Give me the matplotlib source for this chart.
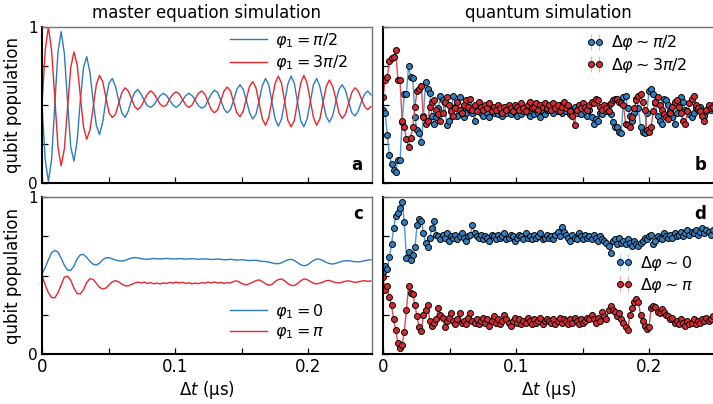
import numpy as np
import matplotlib
matplotlib.use('Agg')
import matplotlib.pyplot as plt

# master equation simulation, sampled every dt_sim (us)
dt_sim = 0.0024
a_blue = [0.50, 0.15, 0.01, 0.15, 0.50, 0.84, 0.97, 0.83, 0.52, 0.23,
          0.14, 0.27, 0.53, 0.74, 0.81, 0.71, 0.53, 0.37, 0.31, 0.39,
          0.53, 0.64, 0.67, 0.62, 0.53, 0.45, 0.42, 0.46, 0.53, 0.58,
          0.60, 0.57, 0.53, 0.495, 0.485, 0.50, 0.53, 0.56, 0.575, 0.56,
          0.53, 0.50, 0.485, 0.50, 0.53, 0.56, 0.575, 0.56, 0.53, 0.495,
          0.48, 0.49, 0.53, 0.57, 0.595, 0.58, 0.53, 0.475, 0.45, 0.47,
          0.53, 0.60, 0.63, 0.60, 0.53, 0.45, 0.41, 0.44, 0.53, 0.625,
          0.67, 0.63, 0.52, 0.41, 0.365, 0.41, 0.52, 0.635, 0.685, 0.64,
          0.52, 0.40, 0.36, 0.41, 0.52, 0.63, 0.67, 0.62, 0.52, 0.425,
          0.39, 0.43, 0.52, 0.60, 0.63, 0.595, 0.52, 0.45, 0.43, 0.46,
          0.52, 0.57, 0.59, 0.565]
a_red = [0.50, 0.85, 1.00, 0.85, 0.55, 0.23, 0.11, 0.22, 0.48, 0.74,
         0.84, 0.76, 0.56, 0.36, 0.28, 0.34, 0.48, 0.63, 0.69, 0.65,
         0.55, 0.45, 0.42, 0.44, 0.51, 0.58, 0.61, 0.59, 0.54, 0.49,
         0.47, 0.49, 0.53, 0.57, 0.59, 0.575, 0.54, 0.505, 0.49, 0.50,
         0.54, 0.57, 0.585, 0.57, 0.535, 0.50, 0.485, 0.50, 0.54, 0.575,
         0.59, 0.57, 0.52, 0.47, 0.45, 0.47, 0.53, 0.59, 0.615, 0.59,
         0.52, 0.45, 0.425, 0.46, 0.54, 0.62, 0.65, 0.61, 0.51, 0.41,
         0.37, 0.42, 0.53, 0.64, 0.685, 0.64, 0.52, 0.40, 0.36, 0.40,
         0.52, 0.64, 0.69, 0.64, 0.53, 0.42, 0.37, 0.41, 0.515, 0.62,
         0.66, 0.62, 0.54, 0.45, 0.415, 0.44, 0.51, 0.58, 0.61, 0.59,
         0.54, 0.49, 0.47, 0.49]
c_blue = [0.51, 0.55, 0.60, 0.645, 0.66, 0.65, 0.61, 0.565, 0.535, 0.532,
          0.56, 0.605, 0.632, 0.634, 0.615, 0.59, 0.572, 0.567, 0.578, 0.60,
          0.613, 0.613, 0.606, 0.598, 0.594, 0.592, 0.596, 0.604, 0.611, 0.614,
          0.612, 0.608, 0.604, 0.603, 0.606, 0.608, 0.607, 0.605, 0.607, 0.609,
          0.607, 0.605, 0.606, 0.608, 0.606, 0.604, 0.606, 0.607, 0.605, 0.603,
          0.605, 0.606, 0.604, 0.602, 0.603, 0.605, 0.603, 0.600, 0.601, 0.603,
          0.601, 0.598, 0.599, 0.600, 0.597, 0.595, 0.596, 0.597, 0.593, 0.590,
          0.589, 0.586, 0.580, 0.576, 0.575, 0.581, 0.591, 0.600, 0.603, 0.596,
          0.582, 0.568, 0.562, 0.566, 0.580, 0.596, 0.605, 0.603, 0.595, 0.584,
          0.576, 0.573, 0.577, 0.585, 0.591, 0.594, 0.594, 0.591, 0.588, 0.587,
          0.589, 0.594, 0.598, 0.601]
c_red = [0.50, 0.44, 0.39, 0.36, 0.358, 0.39, 0.44, 0.49, 0.495, 0.47,
         0.42, 0.385, 0.383, 0.41, 0.455, 0.48, 0.475, 0.45, 0.425, 0.414,
         0.42, 0.44, 0.46, 0.467, 0.46, 0.445, 0.435, 0.434, 0.443, 0.452,
         0.458, 0.452, 0.458, 0.449, 0.455, 0.447, 0.452, 0.446, 0.453, 0.449,
         0.456, 0.451, 0.458, 0.452, 0.457, 0.450, 0.454, 0.447, 0.452, 0.448,
         0.455, 0.451, 0.458, 0.453, 0.459, 0.452, 0.456, 0.449, 0.455, 0.452,
         0.462, 0.466, 0.455, 0.446, 0.440, 0.448, 0.457, 0.468, 0.472, 0.461,
         0.447, 0.438, 0.443, 0.462, 0.474, 0.478, 0.466, 0.449, 0.437, 0.436,
         0.448, 0.466, 0.478, 0.474, 0.462, 0.451, 0.446, 0.452, 0.458, 0.467,
         0.469, 0.461, 0.455, 0.452, 0.458, 0.463, 0.466, 0.461, 0.456, 0.459,
         0.464, 0.467, 0.463, 0.466]

# quantum simulation (measured points), sampled every dt_exp (us)
dt_exp = 0.0016
err = 0.015
b_blue = [0.47, 0.45, 0.31, 0.18, 0.12, 0.085, 0.07, 0.15, 0.145, 0.39,
          0.57, 0.57, 0.75, 0.68, 0.67, 0.42, 0.34, 0.32, 0.26, 0.43,
          0.65, 0.60, 0.58, 0.43, 0.38, 0.42, 0.48, 0.56, 0.53, 0.51,
          0.37, 0.40, 0.46, 0.56, 0.49, 0.43, 0.55, 0.47, 0.42, 0.45,
          0.51, 0.47, 0.45, 0.40, 0.47, 0.46, 0.45, 0.43, 0.48, 0.45,
          0.42, 0.47, 0.45, 0.48, 0.44, 0.46, 0.43, 0.47, 0.45, 0.48,
          0.44, 0.46, 0.45, 0.43, 0.47, 0.44, 0.46, 0.48, 0.45, 0.43,
          0.46, 0.44, 0.47, 0.45, 0.42, 0.46, 0.44, 0.47,
          0.47, 0.50, 0.45, 0.49, 0.46, 0.50, 0.45, 0.48, 0.46, 0.49,
          0.44, 0.47, 0.49, 0.45, 0.47, 0.44, 0.48, 0.46, 0.43, 0.47,
          0.42, 0.38, 0.41, 0.40, 0.45, 0.44, 0.48, 0.46, 0.50, 0.44,
          0.39, 0.36, 0.36, 0.33, 0.32, 0.55, 0.56, 0.48, 0.43, 0.40,
          0.45, 0.54, 0.48, 0.36, 0.33, 0.32, 0.45, 0.59, 0.60, 0.57,
          0.51, 0.43, 0.40, 0.38, 0.54, 0.53, 0.50, 0.46, 0.42, 0.38,
          0.45, 0.51, 0.55, 0.52, 0.47, 0.46, 0.44, 0.42, 0.45, 0.48,
          0.47, 0.49, 0.44, 0.43, 0.46, 0.49, 0.47, 0.50]
b_red = [0.55, 0.66, 0.68, 0.78, 0.80, 0.81, 0.85, 0.66, 0.66, 0.40,
         0.36, 0.28, 0.23, 0.29, 0.36, 0.49, 0.59, 0.60, 0.62, 0.42,
         0.38, 0.40, 0.49, 0.52, 0.53, 0.47, 0.44, 0.40, 0.45, 0.52,
         0.55, 0.50, 0.46, 0.43, 0.48, 0.52, 0.47, 0.45, 0.50, 0.53,
         0.49, 0.54, 0.47, 0.50, 0.46, 0.52, 0.49, 0.47, 0.50, 0.48,
         0.51, 0.46, 0.49, 0.47, 0.50, 0.48, 0.45, 0.49, 0.47, 0.50,
         0.48, 0.46, 0.50, 0.49, 0.47, 0.51, 0.48, 0.46, 0.50, 0.52,
         0.48, 0.49, 0.51, 0.47, 0.50, 0.49, 0.51, 0.48,
         0.50, 0.47, 0.51, 0.48, 0.50, 0.46, 0.49, 0.52, 0.48, 0.50,
         0.46, 0.43, 0.37, 0.47, 0.50, 0.48, 0.51, 0.49, 0.47, 0.50,
         0.52, 0.51, 0.54, 0.53, 0.49, 0.47, 0.50, 0.48, 0.46, 0.51,
         0.53, 0.54, 0.54, 0.52, 0.51, 0.50, 0.38, 0.37, 0.36, 0.42,
         0.48, 0.53, 0.56, 0.57, 0.52, 0.47, 0.34, 0.33, 0.36, 0.46,
         0.52, 0.55, 0.50, 0.47, 0.44, 0.42, 0.41, 0.45, 0.49, 0.52,
         0.53, 0.49, 0.45, 0.40, 0.38, 0.46, 0.51, 0.54, 0.56, 0.50,
         0.48, 0.46, 0.43, 0.40, 0.47, 0.50, 0.48, 0.49]
d_blue = [0.52, 0.56, 0.54, 0.62, 0.70, 0.80, 0.88, 0.90, 0.93, 0.97,
          0.84, 0.61, 0.65, 0.60, 0.63, 0.68, 0.82, 0.86, 0.85, 0.77,
          0.71, 0.68, 0.74, 0.80, 0.85, 0.76,
          0.75, 0.73, 0.76, 0.74, 0.77, 0.72, 0.75, 0.74, 0.76, 0.73,
          0.75, 0.77, 0.74, 0.72, 0.75, 0.76, 0.82, 0.77, 0.75, 0.74,
          0.76, 0.73, 0.75, 0.74, 0.72, 0.76, 0.75, 0.73, 0.76, 0.74,
          0.75, 0.77, 0.73, 0.74, 0.76, 0.75, 0.72, 0.74, 0.76, 0.75,
          0.73, 0.77, 0.74, 0.75, 0.73, 0.76, 0.74, 0.75, 0.77, 0.73, 0.74, 0.76,
          0.74, 0.75, 0.73, 0.76, 0.78, 0.75, 0.81, 0.78, 0.76, 0.74,
          0.72, 0.76, 0.74, 0.73, 0.77, 0.75, 0.73, 0.76, 0.74, 0.75,
          0.73, 0.76, 0.74, 0.72, 0.75, 0.73, 0.72, 0.71, 0.69, 0.645,
          0.72, 0.73, 0.70, 0.74, 0.71, 0.72, 0.70, 0.73, 0.71, 0.69,
          0.72, 0.70, 0.69, 0.71, 0.72, 0.74, 0.73, 0.75, 0.76, 0.70,
          0.72, 0.75, 0.74, 0.73, 0.77, 0.75, 0.74, 0.76, 0.74, 0.77,
          0.75, 0.76, 0.78, 0.75, 0.77, 0.79, 0.76, 0.78, 0.77, 0.79,
          0.76, 0.78, 0.80, 0.77, 0.79, 0.78, 0.76, 0.79]
d_red = [0.49, 0.41, 0.43, 0.36, 0.31, 0.22, 0.15, 0.07, 0.04, 0.06,
         0.14, 0.28, 0.43, 0.39, 0.38, 0.31, 0.24, 0.17, 0.145, 0.25,
         0.28, 0.31, 0.21, 0.18, 0.20, 0.22, 0.29, 0.25, 0.23, 0.17, 0.21,
         0.23, 0.26, 0.21, 0.19, 0.22, 0.26, 0.20, 0.21, 0.19, 0.23,
         0.26, 0.21, 0.20, 0.22, 0.19, 0.21, 0.23, 0.20, 0.22, 0.18,
         0.21, 0.24, 0.20, 0.22, 0.19, 0.21, 0.25, 0.22, 0.20, 0.18,
         0.21, 0.23, 0.20, 0.22, 0.19, 0.21, 0.20, 0.23, 0.21, 0.19,
         0.22, 0.20, 0.21, 0.23, 0.19, 0.21, 0.22,
         0.21, 0.20, 0.22, 0.19, 0.21, 0.23, 0.20, 0.22, 0.21, 0.19,
         0.22, 0.20, 0.23, 0.21, 0.19, 0.22, 0.20, 0.21, 0.23, 0.22,
         0.25, 0.22, 0.20, 0.23, 0.21, 0.27, 0.24, 0.22, 0.28, 0.305,
         0.28, 0.27, 0.24, 0.26, 0.22, 0.20, 0.17, 0.15, 0.25, 0.295,
         0.33, 0.35, 0.33, 0.25, 0.21, 0.18, 0.16, 0.17, 0.295, 0.305,
         0.30, 0.27, 0.26, 0.285, 0.27, 0.25, 0.24, 0.22, 0.23, 0.20,
         0.21, 0.19, 0.22, 0.20, 0.18, 0.21, 0.19, 0.20, 0.22, 0.19,
         0.21, 0.20, 0.22, 0.21, 0.23, 0.21, 0.22, 0.24]

x_ticks = [0, 0.05, 0.1, 0.15, 0.2]
x_ticklabels = ['0', '', '0.1', '', '0.2']
y_ticks = [0, 0.25, 0.5, 0.75, 1]
y_ticklabels = ['0', '', '', '', '1']

plt.rcParams['font.family'] = ['DejaVu Sans']
plt.rcParams['mathtext.fontset'] = 'dejavusans'

sim_blue, sim_red = '#2b7bc2', '#e8262b'
exp_blue_line, exp_blue_face, exp_blue_err = '#4d97d6', '#2f80c3', '#a9cdee'
exp_red_line, exp_red_face, exp_red_err = '#e4494d', '#d72a30', '#f3a6a8'

W, H = 713, 404
fig = plt.figure(figsize=(W / 100, H / 100), dpi=100)


def box(x0, y0, x1, y1):
    return [x0 / W, 1 - y1 / H, (x1 - x0) / W, (y1 - y0) / H]


ax_a = fig.add_axes(box(42, 27, 372, 183))
ax_b = fig.add_axes(box(383, 27, 715, 183))
ax_c = fig.add_axes(box(42, 197, 372, 354))
ax_d = fig.add_axes(box(383, 197, 715, 354))


def style(ax, xmax, left, bottom):
    ax.set_xlim(0, xmax)
    ax.set_ylim(0, 1)
    ax.set_xticks(x_ticks)
    ax.set_xticklabels(x_ticklabels)
    ax.set_yticks(y_ticks)
    ax.set_yticklabels(y_ticklabels)
    ax.tick_params(direction='in', length=4, width=0.9, top=False, right=False,
                   labelsize=12, pad=3, labelleft=left, labelbottom=bottom)
    ax.tick_params(axis='y', labelsize=11)
    for s in ['left', 'bottom']:
        ax.spines[s].set_linewidth(1.5)
        ax.spines[s].set_color('black')
    for s in ['top', 'right']:
        ax.spines[s].set_linewidth(1.0)
        ax.spines[s].set_color('0.45')
    if left:
        ax.set_ylabel('qubit population', fontsize=12)
        ax.yaxis.set_label_coords(-0.062, 0.5)
    if bottom:
        ax.set_xlabel(r'$\Delta t$ (μs)', fontsize=12, labelpad=2)


ax_a.plot(np.arange(len(a_blue)) * dt_sim, a_blue, color=sim_blue, lw=1.0,
          label=r'$\varphi_1 = \pi/2$')
ax_a.plot(np.arange(len(a_red)) * dt_sim, a_red, color=sim_red, lw=1.0,
          label=r'$\varphi_1 = 3\pi/2$')
ax_c.plot(np.arange(len(c_blue)) * dt_sim, c_blue, color=sim_blue, lw=1.0,
          label=r'$\varphi_1 = 0$')
ax_c.plot(np.arange(len(c_red)) * dt_sim, c_red, color=sim_red, lw=1.0,
          label=r'$\varphi_1 = \pi$')


def points(ax, vals, line, face, ecol, label):
    t = np.arange(len(vals)) * dt_exp
    ax.errorbar(t, vals, yerr=err, fmt='-o', color=line, mfc=face, mec='black',
                ms=4.3, mew=0.7, lw=1.0, ecolor=ecol, elinewidth=0.8, capsize=0,
                label=label)


points(ax_b, b_blue, exp_blue_line, exp_blue_face, exp_blue_err, r'$\Delta\varphi \sim \pi/2$')
points(ax_b, b_red, exp_red_line, exp_red_face, exp_red_err, r'$\Delta\varphi \sim 3\pi/2$')
points(ax_d, d_blue, exp_blue_line, exp_blue_face, exp_blue_err, r'$\Delta\varphi \sim 0$')
points(ax_d, d_red, exp_red_line, exp_red_face, exp_red_err, r'$\Delta\varphi \sim \pi$')

style(ax_a, 0.248, True, False)
style(ax_b, 0.2496, False, False)
style(ax_c, 0.248, True, True)
style(ax_d, 0.2496, False, True)

leg_kw = dict(frameon=False, fontsize=11.5, borderpad=0, borderaxespad=0,
              labelspacing=0.22)
ax_a.legend(loc='upper left', bbox_to_anchor=(0.57, 0.975), handlelength=2.3,
            handletextpad=0.5, **leg_kw)
ax_c.legend(loc='lower left', bbox_to_anchor=(0.57, 0.08), handlelength=2.3,
            handletextpad=0.5, **leg_kw)
ax_b.legend(loc='upper left', bbox_to_anchor=(0.612, 0.96), handlelength=1.1,
            handletextpad=0.45, numpoints=2, **leg_kw)
ax_d.legend(loc='upper left', bbox_to_anchor=(0.70, 0.64), handlelength=1.1,
            handletextpad=0.45, numpoints=2, **leg_kw)

for ax, lab, x, y, va in [(ax_a, 'a', 0.972, 0.06, 'bottom'), (ax_b, 'b', 0.973, 0.06, 'bottom'),
                          (ax_c, 'c', 0.972, 0.95, 'top'), (ax_d, 'd', 0.973, 0.95, 'top')]:
    ax.text(x, y, lab, transform=ax.transAxes, ha='right', va=va,
            fontsize=12, fontweight='bold')

fig.text(207 / W, 1 - 13 / H, 'master equation simulation', ha='center', va='center', fontsize=12)
fig.text(548 / W, 1 - 13 / H, 'quantum simulation', ha='center', va='center', fontsize=12)

fig.savefig('out.png', dpi=100)
